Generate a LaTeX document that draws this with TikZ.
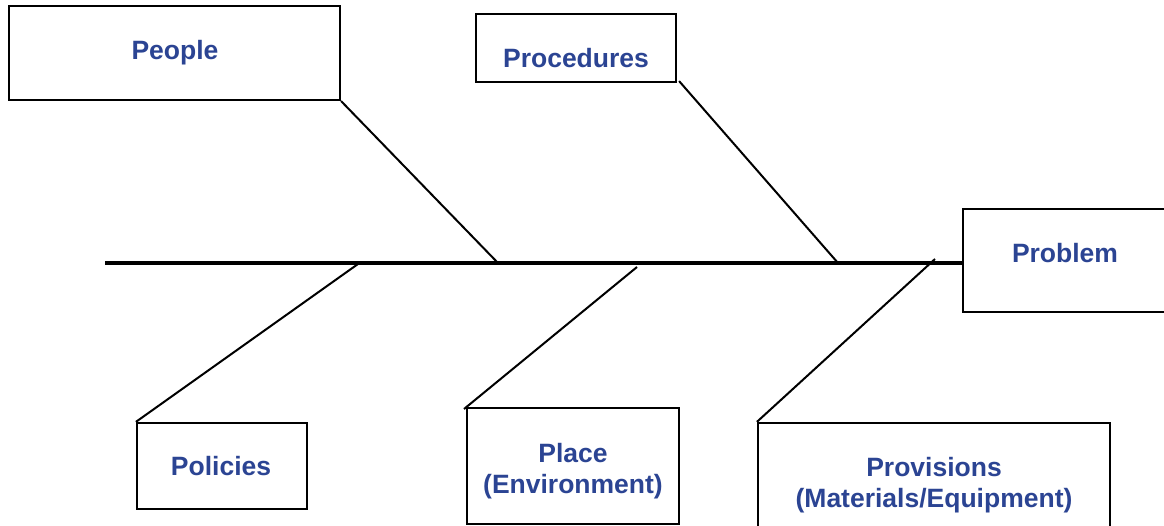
\documentclass[tikz,border=0pt]{standalone}
\usepackage{fontspec}
\setmainfont{Liberation Sans}
\definecolor{labelblue}{HTML}{2B4493}
\begin{document}
\begin{tikzpicture}[x=1pt,y=-1pt,
  box/.style={draw=black,line width=2.2pt,rectangle,inner sep=0pt,fill=white},
  lbl/.style={text=labelblue,font=\fontsize{26.5}{31.5}\selectfont\bfseries,align=center,inner sep=0pt},
  bone/.style={line width=2pt},
  spine/.style={line width=4.5pt}]
\useasboundingbox (0,0) rectangle (1164,526);

% cause boxes and the effect box
\node[box,minimum width=331pt,minimum height=94pt] (people) at (174.5,53) {};
\node[box,minimum width=200pt,minimum height=68pt] (proc) at (576,48) {};
\node[box,minimum width=206pt,minimum height=103pt] (problem) at (1066,260.5) {};
\node[box,minimum width=170pt,minimum height=86pt] (policies) at (222,466) {};
\node[box,minimum width=212pt,minimum height=116pt] (place) at (573,466) {};
\node[box,minimum width=352pt,minimum height=110pt] (prov) at (934,478) {};

% labels
\node[lbl] (tpeople) at (175,53) {People};
\node[lbl] (tproc) at (576,58) {Procedures};
\node[lbl] (tproblem) at (1065,253) {Problem};
\node[lbl] (tpolicies) at (221,466) {Policies};
\node[lbl] (tplace) at (573,471) {Place\\(Environment)};
\node[lbl] (tprov) at (934,485) {Provisions\\(Materials/Equipment)};

% spine and joints
\coordinate (tail) at (105,263);
\coordinate (jpeople) at (498,263);
\coordinate (jproc) at (838,263);
\coordinate (jpolicies) at (358,264);
\coordinate (jplace) at (637,267);
\coordinate (jprov) at (935,259);
\coordinate (eplace) at (464,409);
\draw[spine] (tail) -- (tail -| problem.west);

% bones
\draw[bone] (people.south east) -- (jpeople);
\draw[bone] ([xshift=2pt,yshift=2pt]proc.south east) -- (jproc);
\draw[bone] (jpolicies) -- (policies.north west);
\draw[bone] (jplace) -- (eplace);
\draw[bone] (jprov) -- (prov.north west);
\end{tikzpicture}
\end{document}
